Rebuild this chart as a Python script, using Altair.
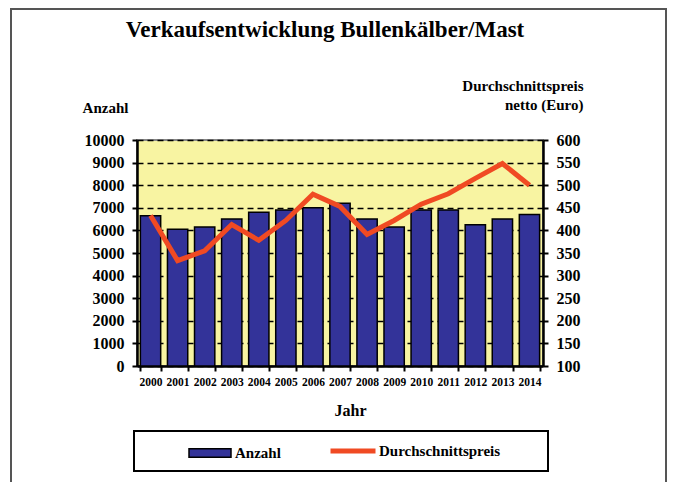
import altair as alt
import pandas as pd

years = [str(y) for y in range(2000, 2015)]
anzahl = [6650, 6050, 6150, 6500, 6800, 6900, 7000, 7200, 6500, 6150, 6900, 6900, 6250, 6500, 6700]
preis = [433, 333, 355, 413, 378, 422, 480, 453, 391, 422, 458, 481, 515, 548, 500]

df = pd.DataFrame({"Jahr": years, "Anzahl": anzahl, "Preis": preis,
                   "s1": ["Anzahl"] * 15, "s2": ["Durchschnittspreis"] * 15})

FONT = "Liberation Serif"
W, H = 406, 226
PL, PT = 129, 132

xenc = alt.X("Jahr:N", title="Jahr",
             scale=alt.Scale(paddingInner=0.25, paddingOuter=0.125),
             axis=alt.Axis(labelAngle=0, labelFont=FONT, labelFontWeight="bold", labelFontSize=11.5,
                           labelColor="black", labelOverlap=False, labelPadding=5,
                           tickBand="extent", tickSize=5, tickWidth=2, tickColor="black",
                           domainColor="black", domainWidth=2.5, grid=False,
                           titleFont=FONT, titleFontWeight="bold", titleFontSize=16, titleColor="black",
                           titleX=213, titleY=44, titleBaseline="middle", titleAlign="center"))

base = alt.Chart(df)

bars = base.mark_bar(stroke="black", strokeWidth=1.5).encode(
    x=xenc,
    y=alt.Y("Anzahl:Q", scale=alt.Scale(domain=[0, 10000]),
            axis=alt.Axis(values=list(range(0, 10001, 1000)), title="Anzahl", format="d",
                          labelFont=FONT, labelFontWeight="bold", labelFontSize=16, labelColor="black",
                          labelPadding=8, tickSize=5, tickWidth=2, tickColor="black",
                          domainColor="black", domainWidth=2.5,
                          grid=True, gridColor="black", gridDash=[6, 4], gridWidth=1.5,
                          titleFont=FONT, titleFontWeight="bold", titleFontSize=15, titleColor="black",
                          titleAngle=0, titleX=-32, titleY=-33, titleAlign="center",
                          titleBaseline="middle")),
    fill=alt.Fill("s1:N", scale=alt.Scale(domain=["Anzahl"], range=["#333399"]),
                  legend=alt.Legend(title=None, orient="none", legendX=51, legendY=291,
                                    symbolType="M-1,-0.2H1V0.2H-1Z", symbolSize=1764,
                                    symbolStrokeColor="black", symbolStrokeWidth=1.5,
                                    labelFont=FONT, labelFontWeight="bold", labelFontSize=15,
                                    labelColor="black", labelOffset=3, padding=0)),
)

line = base.mark_line(strokeWidth=5).encode(
    x=alt.X("Jahr:N"),
    y=alt.Y("Preis:Q", scale=alt.Scale(domain=[100, 600]),
            axis=alt.Axis(orient="right", values=list(range(100, 601, 50)),
                          title=["Durchschnittspreis", "netto (Euro)"],
                          labelFont=FONT, labelFontWeight="bold", labelFontSize=16, labelColor="black",
                          labelPadding=8, tickSize=5, tickWidth=2, tickColor="black",
                          domainColor="black", domainWidth=2.5, grid=False,
                          titleFont=FONT, titleFontWeight="bold", titleFontSize=15, titleColor="black",
                          titleAngle=0, titleX=40, titleY=-62, titleAlign="right",
                          titleBaseline="top", titleLineHeight=19)),
    stroke=alt.Stroke("s2:N", scale=alt.Scale(domain=["Durchschnittspreis"], range=["#F04A23"]),
                      legend=alt.Legend(title=None, orient="none", legendX=191, legendY=286,
                                        symbolType="stroke", symbolSize=2025, symbolStrokeWidth=5,
                                        labelFont=FONT, labelFontWeight="bold", labelFontSize=15,
                                        labelColor="black", labelOffset=1, padding=0)),
)

box_data = alt.Data(values=[{"a": 1}])
legend_box = alt.Chart(box_data).mark_rect(fill=None, stroke="black", strokeWidth=2).encode(
    x=alt.value(-3), x2=alt.value(411), y=alt.value(291), y2=alt.value(331))
frame = alt.Chart(box_data).mark_rect(fill=None, stroke="#555555", strokeWidth=2).encode(
    x=alt.value(-126), x2=alt.value(529), y=alt.value(-131), y2=alt.value(400))

chart = alt.layer(bars, line, legend_box, frame).resolve_scale(
    y="independent", fill="independent", stroke="independent"
).properties(
    width=W, height=H,
    autosize=alt.AutoSizeParams(type="none"),
    padding={"left": PL, "top": PT, "right": 124, "bottom": 116},
    background="white",
    title=alt.TitleParams("Verkaufsentwicklung Bullenkälber/Mast", font=FONT, fontWeight="bold",
                          fontSize=23, color="black", anchor="middle", dx=-15, offset=-34),
).configure_view(fill="#F8F4A2", stroke="#888888", strokeWidth=2)

chart.save("out.html", embed_options={"renderer": "svg", "actions": False})
